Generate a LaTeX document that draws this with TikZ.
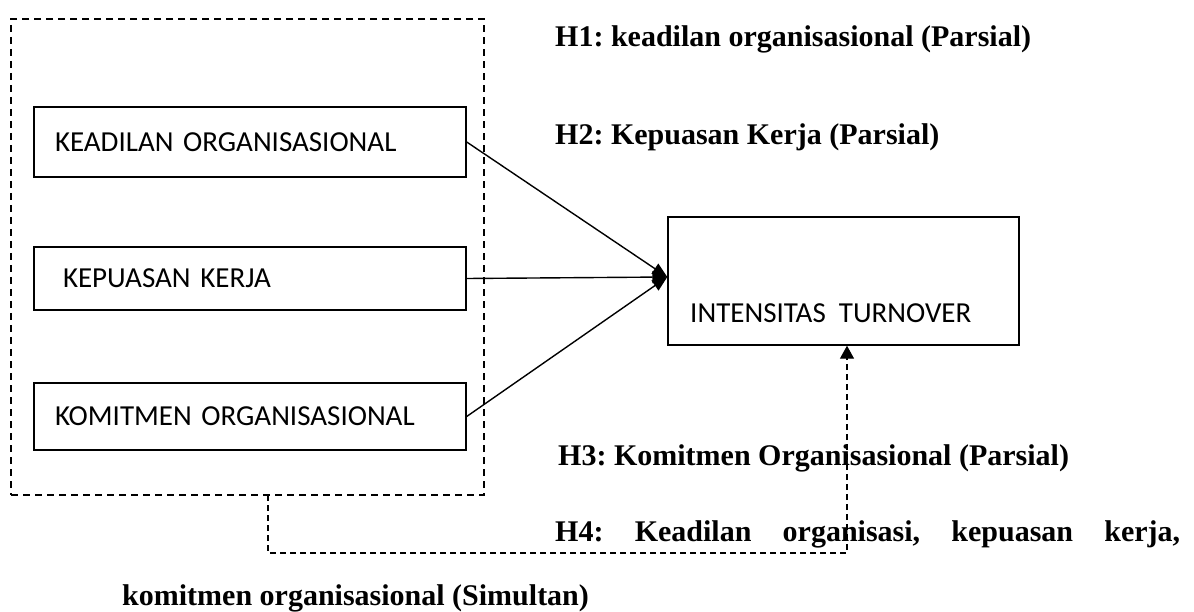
\documentclass[tikz,border=0pt]{standalone}
\usepackage{fontspec}
\setmainfont{Liberation Serif}
\newfontfamily\boxfont{Carlito}
\usetikzlibrary{arrows.meta,positioning}
\frenchspacing

\tikzset{
  varbox/.style={draw,line width=1.4pt,minimum width=432pt,text width=390pt,
    align=left,inner xsep=21pt,font=\boxfont\fontsize{29}{31}\selectfont},
  grpbox/.style={draw,dashed,line width=1.3pt,dash pattern=on 7pt off 5pt,
    minimum width=473pt,minimum height=476pt},
  hyp/.style={anchor=base west,inner sep=0pt,font=\bfseries\fontsize{30}{32}\selectfont},
  link/.style={line width=1.4pt,-{Triangle[length=15pt,width=12pt]}},
  dashlink/.style={line width=1.3pt,dash pattern=on 6pt off 4pt,
    -{Triangle[length=13pt,width=14pt]}}
}

\begin{document}
\begin{tikzpicture}[x=1pt,y=-1pt]
  \useasboundingbox (0,0) rectangle (1194,612);
  % dashed frame round the three variables
  \node[grpbox] (grp) at (247.5,257) {};
  % independent variables
  \node[varbox,minimum height=70pt] (keadilan) at (250,142) {KEADILAN ORGANISASIONAL};
  \node[varbox,minimum height=63pt] (kepuasan) at (250,278.5) {\hspace*{8pt}KEPUASAN KERJA};
  \node[varbox,minimum height=67pt] (komitmen) at (250,416.5) {KOMITMEN ORGANISASIONAL};
  % dependent variable
  \node[draw,line width=1.4pt,minimum width=351pt,minimum height=128pt] (turnover) at (843.5,281) {};
  \node[anchor=base west,inner sep=0pt,font=\boxfont\fontsize{29}{31}\selectfont]
    (turntext) at (690,323) {INTENSITAS\ \ TURNOVER};
  \coordinate (hub) at ([yshift=4pt]turnover.west);
  % partial paths
  \draw[link] (keadilan.east) -- (hub);
  \draw[link] (kepuasan.east) -- (hub);
  \draw[link] (komitmen.east) -- (hub);
  % simultaneous path
  \coordinate (simstart) at (268,495);
  \draw[dashlink] (simstart) -- (268,553) -| ([xshift=3.5pt]turnover.south);
  % hypotheses
  \node[hyp] (h1) at (555,47) {H1: keadilan organisasional (Parsial)};
  \node[hyp] (h2) at (555,145) {H2: Kepuasan Kerja (Parsial)};
  \node[hyp] (h3) at (558,465) {H3: Komitmen Organisasional (Parsial)};
  \node[hyp] (h4) at (555,541) {\makebox[625pt][s]{H4: Keadilan organisasi, kepuasan kerja,}};
  \node[hyp] (h4b) at (122,605) {komitmen organisasional (Simultan)};
\end{tikzpicture}
\end{document}
